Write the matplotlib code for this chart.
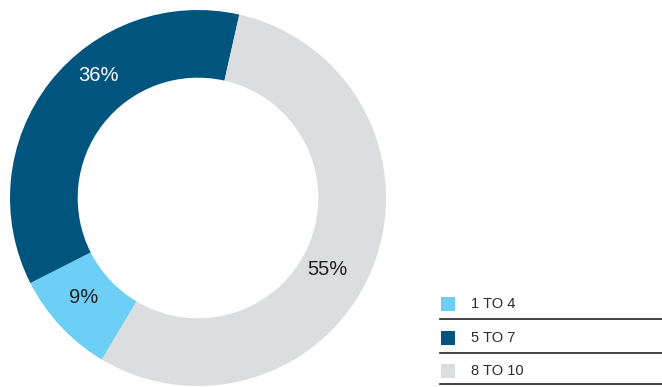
import matplotlib.pyplot as plt
from matplotlib.patches import Rectangle
from matplotlib.lines import Line2D

plt.rcParams['font.family'] = ['Liberation Sans', 'DejaVu Sans']

categories = ['1 TO 4', '5 TO 7', '8 TO 10']
shares = [9, 36, 55]
colors = ['#6dcff6', '#00557f', '#dcdddf']
label_colors = ['#231f20', 'white', '#231f20']
# label anchor points in units of the outer radius
label_pos = [(-0.61, -0.53), (-0.53, 0.65), (0.69, -0.38)]

W, H = 662, 387
fig = plt.figure(figsize=(W / 100, H / 100), dpi=100)

# donut, centre (198, 198) px, outer radius 188 px
cx, cy, r = 198, 198, 188
ax = fig.add_axes([(cx - r) / W, (H - cy - r) / H, 2 * r / W, 2 * r / H])
wedges, texts, autotexts = ax.pie(
    shares, colors=colors, startangle=239.3, counterclock=False,
    radius=1.0, wedgeprops=dict(width=0.36, linewidth=0),
    autopct='%d%%', pctdistance=0.82,
    textprops=dict(fontsize=14.5))
for t, c, p in zip(autotexts, label_colors, label_pos):
    t.set_color(c)
    t.set_position(p)
ax.set_xlim(-1, 1)
ax.set_ylim(-1, 1)
ax.set_aspect('equal')
ax.axis('off')

# legend rows with divider lines
row_y = [304, 338, 371]
line_y = [319, 353, 384]
for name, col, y, ly in zip(categories, colors, row_y, line_y):
    fig.patches.append(Rectangle((441 / W, (H - y - 7) / H), 14 / W, 14 / H,
                                 transform=fig.transFigure, facecolor=col,
                                 edgecolor='none'))
    fig.text(471 / W, (H - y) / H, name, fontsize=10.5, color='#2b2b2b',
             va='center', ha='left')
    fig.lines.append(Line2D([440 / W, 1], [(H - ly) / H] * 2,
                            transform=fig.transFigure, color='#231f20',
                            linewidth=1.2))

fig.savefig('out.png', dpi=100)
